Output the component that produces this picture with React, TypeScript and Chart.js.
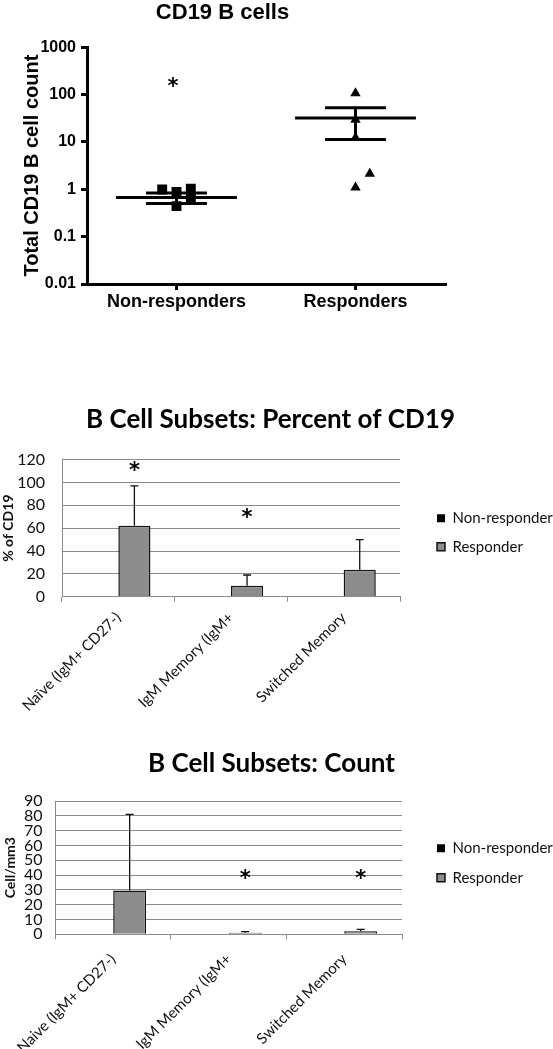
import React, { useEffect, useRef } from 'react';
import { Chart, registerables } from 'chart.js';

Chart.register(...registerables);

// ---------------- Panel 1 data: CD19 B cells (log scale scatter) ----------------
const groupLabels = ['Non-responders', 'Responders'];
const groupPositions = [1, 3];
const nonResponderValues = [0.99, 0.88, 0.44, 1.03, 0.64];
const nonResponderJitter = [-0.16, 0, 0, 0.16, 0.16];
const responderValues = [107, 29.5, 12.3, 2.14, 1.09];
const responderJitter = [0, 0, 0, 0.16, 0];
const groupMeans = [0.67, 31.9];
const groupSemLow = [0.5, 11.3];
const groupSemHigh = [0.835, 52.9];
const logTicks = [0.01, 0.1, 1, 10, 100, 1000];
const cd19StarGroup = [0];
const cd19StarValue = [184];

// ---------------- Panels 2 & 3 data ----------------
const seriesNames = ['Non-responder', 'Responder'];
const subsetLabelsPct = ['Naïve (IgM+ CD27-)', 'IgM Memory (IgM+', 'Switched Memory'];
const subsetLabelsCount = ['Naive (IgM+ CD27-)', 'IgM Memory (IgM+', 'Switched Memory'];

const pctNonResponder = [0, 0, 0];
const pctResponder = [62, 9.5, 23.5];
const pctResponderErrTop = [97, 19, 50];
const pctTicks = [0, 20, 40, 60, 80, 100, 120];
const pctStarIndex = [0, 1];
const pctStarValue = [114, 73];

const countNonResponder = [0, 0, 0];
const countResponder = [29.5, 1.0, 2.0];
const countResponderErrTop = [81, 1.8, 3.3];
const countTicks = [0, 10, 20, 30, 40, 50, 60, 70, 80, 90];
const countStarIndex = [1, 2];
const countStarValue = [41, 41];

// ---------------- styles ----------------
const ARIAL = "'Liberation Sans', Arial, sans-serif";
const CALIBRI = "Lato, 'Open Sans', sans-serif";
const STAR_FONT = "bold 21px 'DejaVu Sans', sans-serif";
const BAR_GRAY = '#8c8c8c';
const GRID_GRAY = '#8a8a8a';
const TEXT = '#111';
const MEAN_HALF = 0.675;
const SEM_HALF = 0.34;
const STAR_JITTER = -0.04;

function drawStar(ctx: CanvasRenderingContext2D, x: number, y: number) {
  ctx.save();
  ctx.font = STAR_FONT;
  ctx.fillStyle = '#000';
  ctx.textAlign = 'center';
  ctx.textBaseline = 'alphabetic';
  const m = ctx.measureText('*');
  const base = y + (m.actualBoundingBoxAscent - m.actualBoundingBoxDescent) / 2;
  ctx.fillText('*', x, base);
  ctx.restore();
}

function makeCd19Config(): any {
  const black = '#000';
  const segment = (x0: number, x1: number, y0: number, y1: number) => ({
    data: [
      { x: x0, y: y0 },
      { x: x1, y: y1 },
    ],
    showLine: true,
    borderColor: black,
    borderWidth: 3,
    pointRadius: 0,
    order: 2,
  });
  const lines: any[] = [];
  groupPositions.forEach((p, g) => {
    lines.push(segment(p - MEAN_HALF, p + MEAN_HALF, groupMeans[g], groupMeans[g]));
    lines.push(segment(p - SEM_HALF, p + SEM_HALF, groupSemHigh[g], groupSemHigh[g]));
    lines.push(segment(p - SEM_HALF, p + SEM_HALF, groupSemLow[g], groupSemLow[g]));
    lines.push(segment(p, p, groupSemLow[g], groupSemHigh[g]));
  });
  const nrPoints = {
    label: groupLabels[0],
    data: nonResponderValues.map((v, i) => ({ x: groupPositions[0] + nonResponderJitter[i], y: v })),
    pointStyle: 'rect',
    pointRadius: 7,
    backgroundColor: black,
    borderColor: black,
    borderWidth: 0,
    order: 1,
  };
  const rPoints = {
    label: groupLabels[1],
    data: responderValues.map((v, i) => ({ x: groupPositions[1] + responderJitter[i], y: v })),
    pointStyle: 'triangle',
    pointRadius: 6,
    backgroundColor: black,
    borderColor: black,
    borderWidth: 0,
    order: 1,
  };
  const starPlugin = {
    id: 'cd19Stars',
    afterDatasetsDraw(chart: any) {
      const { x, y } = chart.scales;
      cd19StarGroup.forEach((g, i) => {
        drawStar(chart.ctx, x.getPixelForValue(groupPositions[g] + STAR_JITTER), y.getPixelForValue(cd19StarValue[i]));
      });
    },
  };
  return {
    type: 'scatter',
    data: { datasets: [nrPoints, rPoints, ...lines] },
    options: {
      responsive: false,
      animation: false,
      events: [],
      layout: { padding: { left: 0, right: 52, top: 0, bottom: 0 } },
      plugins: {
        legend: { display: false },
        tooltip: { enabled: false },
        title: {
          display: true,
          text: 'CD19 B cells',
          color: '#000',
          font: { family: ARIAL, size: 22, weight: 'bold' },
          padding: { top: 0, bottom: 20.8 },
        },
      },
      scales: {
        x: {
          type: 'linear',
          min: 0,
          max: 4,
          afterBuildTicks: (s: any) => {
            s.ticks = groupPositions.map((v) => ({ value: v }));
          },
          afterFit: (s: any) => {
            s.height = 46;
          },
          ticks: {
            autoSkip: false,
            maxRotation: 0,
            minRotation: 0,
            padding: 1,
            color: '#000',
            font: { family: ARIAL, size: 18, weight: 'bold' },
            callback: (v: number) => groupLabels[groupPositions.indexOf(v)],
          },
          grid: { drawOnChartArea: false, drawTicks: true, tickLength: 6, lineWidth: 3, color: '#000' },
          border: { color: '#000', width: 3 },
        },
        y: {
          type: 'logarithmic',
          min: logTicks[0],
          max: logTicks[logTicks.length - 1],
          afterBuildTicks: (s: any) => {
            s.ticks = logTicks.map((v) => ({ value: v }));
          },
          afterFit: (s: any) => {
            s.width = 87;
          },
          ticks: {
            autoSkip: false,
            padding: 5,
            color: '#000',
            font: { family: ARIAL, size: 16, weight: 'bold' },
            callback: (v: number) => String(v),
          },
          grid: { drawOnChartArea: false, drawTicks: true, tickLength: 6, lineWidth: 3, color: '#000' },
          border: { color: '#000', width: 3 },
          title: {
            display: true,
            text: 'Total CD19 B cell count',
            color: '#000',
            font: { family: ARIAL, size: 20, weight: 'bold' },
            padding: { top: 20, bottom: 0 },
          },
        },
      },
    },
    plugins: [starPlugin],
  };
}

function legendPlacer(width: number, boxX: number, firstCenterY: number, fontSize: number) {
  return {
    id: 'legendPlacer',
    afterInit(chart: any) {
      const lg = chart.legend;
      if (!lg) return;
      const orig = lg.fit;
      lg.fit = function () {
        orig.call(this);
        this.width = width;
      };
    },
    afterLayout(chart: any) {
      const lg = chart.legend;
      if (!lg) return;
      const pad = lg.options.labels.padding;
      lg.left = boxX - pad;
      lg.right = lg.left + width;
      lg.top = firstCenterY - pad - fontSize / 2;
      lg.bottom = lg.top + 200;
    },
  };
}

interface SubsetSpec {
  title: string;
  labels: string[];
  nonResponder: number[];
  responder: number[];
  errTop: number[];
  ticks: number[];
  starIndex: number[];
  starValue: number[];
  yTitle: string;
  canvasHeight: number;
  padRight: number;
  titlePad: [number, number];
  yWidth: number;
  yTickPad: number;
  xTickPad: number;
  areaBottom: number;
  areaRight: number;
  legendFirstY: number;
  legendPad: number;
}

function makeSubsetConfig(s: SubsetSpec): any {
  const legendFont = 15;
  const errorBars = {
    id: 'errorBars',
    afterDatasetsDraw(chart: any) {
      const meta = chart.getDatasetMeta(1);
      const yScale = chart.scales.y;
      const ctx = chart.ctx;
      ctx.save();
      ctx.strokeStyle = '#111';
      ctx.lineWidth = 1.3;
      meta.data.forEach((bar: any, i: number) => {
        const yTop = yScale.getPixelForValue(s.errTop[i]);
        ctx.beginPath();
        ctx.moveTo(bar.x, bar.y);
        ctx.lineTo(bar.x, yTop);
        ctx.moveTo(bar.x - 4, yTop);
        ctx.lineTo(bar.x + 4, yTop);
        ctx.stroke();
      });
      ctx.restore();
      s.starIndex.forEach((idx, i) => {
        drawStar(ctx, meta.data[idx].x, yScale.getPixelForValue(s.starValue[i]));
      });
    },
  };
  return {
    type: 'bar',
    data: {
      labels: s.labels,
      datasets: [
        {
          label: seriesNames[0],
          data: s.nonResponder,
          backgroundColor: '#000',
          borderColor: '#000',
          borderWidth: 0,
        },
        {
          label: seriesNames[1],
          data: s.responder,
          backgroundColor: BAR_GRAY,
          borderColor: '#111',
          borderWidth: 1.5,
        },
      ],
    },
    options: {
      responsive: false,
      animation: false,
      events: [],
      layout: { padding: { left: 0, right: s.padRight, top: 0, bottom: 0 } },
      datasets: { bar: { categoryPercentage: 0.57, barPercentage: 1.0 } },
      plugins: {
        tooltip: { enabled: false },
        title: {
          display: true,
          text: s.title,
          color: '#000',
          font: { family: CALIBRI, size: 26, weight: 'bold' },
          padding: { top: s.titlePad[0], bottom: s.titlePad[1] },
        },
        legend: {
          display: true,
          position: 'right',
          align: 'start',
          labels: {
            boxWidth: 8,
            boxHeight: 8,
            padding: s.legendPad,
            color: TEXT,
            font: { family: CALIBRI, size: legendFont },
          },
        },
      },
      scales: {
        x: {
          afterFit: (sc: any) => {
            sc.height = s.canvasHeight - s.areaBottom;
          },
          ticks: {
            autoSkip: false,
            minRotation: 45,
            maxRotation: 45,
            padding: s.xTickPad,
            color: TEXT,
            font: { family: CALIBRI, size: 15 },
          },
          grid: { offset: true, drawOnChartArea: false, drawTicks: true, tickLength: 5, color: GRID_GRAY },
          border: { color: GRID_GRAY, width: 1 },
        },
        y: {
          min: s.ticks[0],
          max: s.ticks[s.ticks.length - 1],
          afterBuildTicks: (sc: any) => {
            sc.ticks = s.ticks.map((v) => ({ value: v }));
          },
          afterFit: (sc: any) => {
            sc.width = s.yWidth;
          },
          ticks: {
            autoSkip: false,
            padding: s.yTickPad,
            color: TEXT,
            font: { family: CALIBRI, size: 16 },
          },
          grid: { color: GRID_GRAY, lineWidth: 1, drawTicks: false },
          border: { color: GRID_GRAY, width: 1 },
          title: {
            display: true,
            text: s.yTitle,
            color: TEXT,
            font: { family: CALIBRI, size: 14, weight: 'bold' },
            padding: { top: 0, bottom: 0 },
          },
        },
      },
    },
    plugins: [
      legendPlacer(553 - s.padRight - s.areaRight, 437, s.legendFirstY, legendFont),
      errorBars,
    ],
  };
}

function ChartCanvas({ top, width, height, make }: { top: number; width: number; height: number; make: () => any }) {
  const ref = useRef<HTMLCanvasElement>(null);
  useEffect(() => {
    const canvas = ref.current;
    if (!canvas) return;
    const chart = new Chart(canvas, make());
    let alive = true;
    if ((document as any).fonts && (document as any).fonts.ready) {
      (document as any).fonts.ready.then(() => {
        if (alive) chart.update();
      });
    }
    return () => {
      alive = false;
      chart.destroy();
    };
  }, []);
  return (
    <canvas
      ref={ref}
      width={width}
      height={height}
      style={{ position: 'absolute', left: 0, top, width, height, display: 'block' }}
    />
  );
}

export default function App() {
  const pctSpec: SubsetSpec = {
    title: 'B Cell Subsets: Percent of CD19',
    labels: subsetLabelsPct,
    nonResponder: pctNonResponder,
    responder: pctResponder,
    errTop: pctResponderErrTop,
    ticks: pctTicks,
    starIndex: pctStarIndex,
    starValue: pctStarValue,
    yTitle: '% of CD19',
    canvasHeight: 320,
    padRight: 12,
    titlePad: [9.4, 24],
    yWidth: 62,
    yTickPad: 17,
    xTickPad: 7,
    areaBottom: 201.7,
    areaRight: 400,
    legendFirstY: 123.3,
    legendPad: 13.4,
  };
  const countSpec: SubsetSpec = {
    title: 'B Cell Subsets: Count',
    labels: subsetLabelsCount,
    nonResponder: countNonResponder,
    responder: countResponder,
    errTop: countResponderErrTop,
    ticks: countTicks,
    starIndex: countStarIndex,
    starValue: countStarValue,
    yTitle: 'Cell/mm3',
    canvasHeight: 311,
    padRight: 10,
    titlePad: [9.7, 22.1],
    yWidth: 53,
    yTickPad: 13,
    xTickPad: 11,
    areaBottom: 196.3,
    areaRight: 402,
    legendFirstY: 110.3,
    legendPad: 14.4,
  };
  return (
    <div style={{ position: 'absolute', left: 0, top: 0, width: 553, height: 1049, background: '#fff' }}>
      <ChartCanvas top={0} width={497} height={330} make={makeCd19Config} />
      <ChartCanvas top={395} width={553} height={320} make={() => makeSubsetConfig(pctSpec)} />
      <ChartCanvas top={738} width={553} height={311} make={() => makeSubsetConfig(countSpec)} />
    </div>
  );
}
